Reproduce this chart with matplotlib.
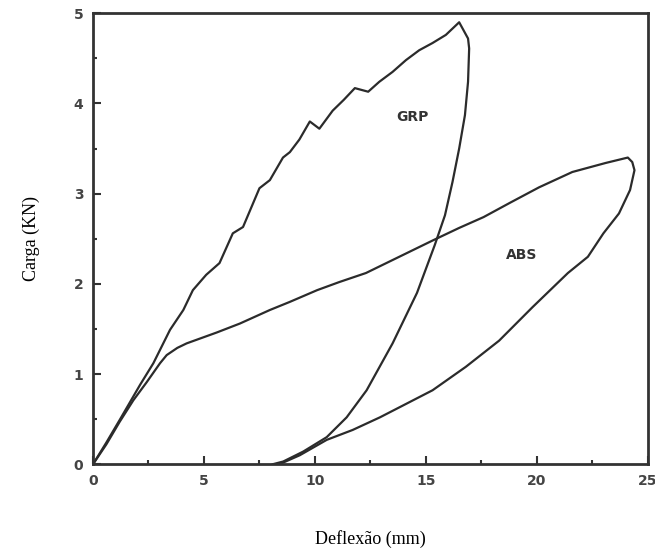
import matplotlib
matplotlib.use("Agg")
import matplotlib.pyplot as plt
from matplotlib.ticker import MultipleLocator

# GRP load-unload curve (Deflexão mm, Carga kN)
grp_x = [0.0, 0.6, 1.2, 2.12, 2.72, 3.47, 4.07, 4.5, 5.1, 5.7, 6.3, 6.76, 7.5, 7.97,
         8.56, 8.87, 9.3, 9.77, 10.2, 10.8, 11.3, 11.8, 12.4, 12.9, 13.5, 14.1, 14.7,
         15.3, 15.9, 16.5, 16.9, 16.95, 16.9, 16.76, 16.5, 16.2, 15.86, 15.4, 14.6,
         13.5, 12.33, 11.43, 10.53, 9.47, 8.57, 8.1]
grp_y = [0.0, 0.24, 0.49, 0.88, 1.12, 1.49, 1.71, 1.93, 2.1, 2.23, 2.56, 2.63, 3.06, 3.15,
         3.4, 3.46, 3.6, 3.8, 3.72, 3.92, 4.04, 4.17, 4.13, 4.24, 4.35, 4.48, 4.59,
         4.67, 4.76, 4.9, 4.72, 4.61, 4.24, 3.87, 3.5, 3.13, 2.76, 2.43, 1.9,
         1.34, 0.82, 0.52, 0.3, 0.14, 0.03, 0.0]

# ABS load-unload curve
abs_x = [0.0, 0.6, 1.2, 1.82, 2.42, 3.02, 3.32, 3.8, 4.22, 5.57, 6.62, 7.97, 8.87, 10.1,
         11.1, 12.3, 13.8, 15.3, 16.5, 17.6, 18.8, 20.1, 21.6, 23.1, 24.1, 24.3, 24.4,
         24.2, 23.7, 23.0, 22.3, 21.4, 19.8, 18.3, 16.8, 15.3, 13.8, 12.93, 11.7,
         10.53, 9.32, 8.4]
abs_y = [0.0, 0.22, 0.47, 0.71, 0.91, 1.12, 1.21, 1.29, 1.34, 1.46, 1.56, 1.71, 1.8, 1.93,
         2.02, 2.12, 2.3, 2.48, 2.62, 2.74, 2.9, 3.07, 3.24, 3.34, 3.4, 3.35, 3.26,
         3.04, 2.78, 2.56, 2.3, 2.12, 1.74, 1.37, 1.08, 0.82, 0.63, 0.52, 0.38,
         0.27, 0.1, 0.0]

x_ticks = [0, 5, 10, 15, 20, 25]
y_ticks = [0, 1, 2, 3, 4, 5]

fig = plt.figure(figsize=(6.55, 5.52), dpi=100)
ax = fig.add_axes([0.142, 0.159, 0.847, 0.817])

line_col = "#2b2b2b"
ax.plot(grp_x, grp_y, color=line_col, lw=1.6, solid_joinstyle="round")
ax.plot(abs_x, abs_y, color=line_col, lw=1.6, solid_joinstyle="round")

ax.text(14.4, 3.85, "GRP", fontsize=10, fontweight="bold", color="#333333",
        ha="center", va="center", family="DejaVu Sans")
ax.text(19.3, 2.32, "ABS", fontsize=10, fontweight="bold", color="#333333",
        ha="center", va="center", family="DejaVu Sans")

ax.set_xlim(0, 25)
ax.set_ylim(0, 5)
ax.set_xticks(x_ticks)
ax.set_yticks(y_ticks)
ax.xaxis.set_minor_locator(MultipleLocator(2.5))
ax.yaxis.set_minor_locator(MultipleLocator(0.5))
ax.tick_params(which="both", direction="in", top=False, right=False,
               colors="#333333", width=1.5)
ax.tick_params(which="major", length=6, pad=7, labelsize=10)
ax.tick_params(which="minor", length=3)
for lab in ax.get_xticklabels() + ax.get_yticklabels():
    lab.set_fontweight("bold")
    lab.set_color("#444444")
for sp in ax.spines.values():
    sp.set_linewidth(2.0)
    sp.set_color("#333333")

ax.set_xlabel("Deflexão (mm)", family="Liberation Serif", fontsize=13, labelpad=30)
ax.set_ylabel("Carga (KN)", family="Liberation Serif", fontsize=13, labelpad=24)

fig.savefig("out.png", dpi=100)
